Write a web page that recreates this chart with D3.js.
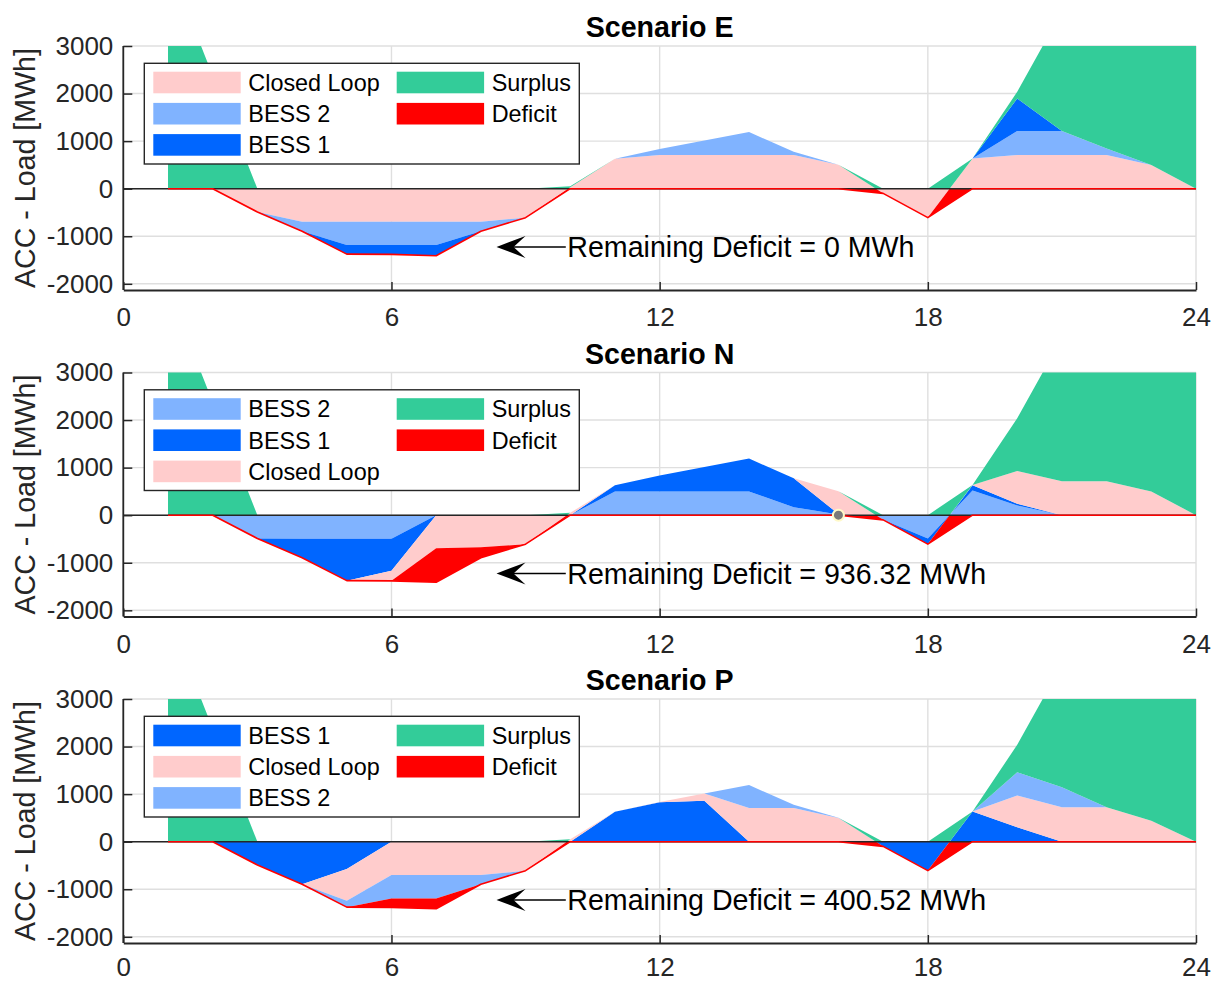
<!DOCTYPE html>
<html>
<head>
<meta charset="utf-8">
<script src="https://cdn.jsdelivr.net/npm/d3@7"></script>
<style>
  body { margin: 0; background: #fff; }
  svg { display: block; }
</style>
</head>
<body>
<svg id="chart" width="1217" height="983"></svg>
<script>
// Hourly samples (hour 1 .. 24)
const hours = d3.range(1, 25);

// ACC - Load [MWh], shared by all scenarios
const accMinusLoad = [4760, 2380, -490, -896, -1376, -1380, -1410, -896, -609, 50, 630, 835,
                      1015, 1190, 775, 505, -98, -608, 637, 2037, 3727, 4300, 4600, 4800];

// Scenario E (stack order: Closed Loop, BESS 2, BESS 1)
const eClosedLoop = [0, 0, -490, -693, -693, -693, -693, -693, -609, 30, 630, 707,
                     707, 707, 707, 505, -98, -608, 637, 707, 707, 707, 497, 0];
const eBess2      = [0, 0, 0, -203, -490, -490, -490, -203, 0, 0, 0, 128,
                     308, 483, 68, 0, 0, 0, 0, 504, 504, 140, 0, 0];
const eBess1      = [0, 0, 0, 0, -193, -197, -227, 0, 0, 0, 0, 0,
                     0, 0, 0, 0, 0, 0, 0, 686, 0, 0, 0, 0];

// Scenario N (stack order: BESS 2, BESS 1, Closed Loop)
const nBess2      = [0, 0, -490, -493, -493, -493, 0, 0, 0, 0, 500, 500,
                     500, 500, 169, 15, -98, -490, 521, 204, 0, 0, 0, 0];
const nBess1      = [0, 0, 0, -403, -883, -676, 0, 0, 0, 0, 130, 335,
                     515, 690, 606, 10, 0, -118, 106, 36, 0, 0, 0, 0];
const nClosedLoop = [0, 0, 0, 0, 0, -211, -695, -674.68, -609, 50, 0, 0,
                     0, 0, 0, 480, 0, 0, 10, 690, 711, 711, 500, 0];

// Scenario P (stack order: BESS 1, Closed Loop, BESS 2)
const pBess1      = [0, 0, -490, -896, -576, 0, 0, 0, 0, 0, 630, 828,
                     863, 0, 0, 0, -98, -608, 637, 302, 0, 0, 0, 0];
const pClosedLoop = [0, 0, 0, 0, -667, -702, -702, -702, -609, 50, 0, 7,
                     152, 709, 709, 497, 0, 0, 0, 667, 723, 723, 442, 0];
const pBess2      = [0, 0, 0, 0, -133, -493, -492.48, -194, 0, 0, 0, 0,
                     0, 481, 66, 8, 0, 0, 0, 491, 421, 0, 0, 0];

// Axis ticks
const xTicks = [0, 6, 12, 18, 24];
const yTicks = [-2000, -1000, 0, 1000, 2000, 3000];

const scenarios = [
  { title: "Scenario E", series: [["Closed Loop", eClosedLoop], ["BESS 2", eBess2], ["BESS 1", eBess1]], tip: null },
  { title: "Scenario N", series: [["BESS 2", nBess2], ["BESS 1", nBess1], ["Closed Loop", nClosedLoop]], tip: [16, 0] },
  { title: "Scenario P", series: [["BESS 1", pBess1], ["Closed Loop", pClosedLoop], ["BESS 2", pBess2]], tip: null }
];

const colors = {
  "Closed Loop": "#FFCCCC",
  "BESS 2": "#80B3FF",
  "BESS 1": "#0066FF",
  "Surplus": "#33CC99",
  "Deficit": "#FF0000"
};

const FONT = "'Liberation Sans', Arial, Helvetica, sans-serif";
const axisColor = "#262626";
const plotLeft = 123.3, plotRight = 1196;
const panelTops = [46, 372.5, 699];
const plotH = 244;
const yDomain = [-2130, 3000];

const svg = d3.select("#chart");
const defs = svg.append("defs");

const x = d3.scaleLinear().domain([0, 24]).range([plotLeft, plotRight]);

scenarios.forEach((sc, si) => {
  const top = panelTops[si];
  const bottom = top + plotH;
  const y = d3.scaleLinear().domain(yDomain).range([bottom, top]);
  const g = svg.append("g");

  // clip regions: whole plot, above zero, below zero
  defs.append("clipPath").attr("id", `plot${si}`).append("rect")
    .attr("x", plotLeft).attr("y", top).attr("width", plotRight - plotLeft).attr("height", plotH);
  defs.append("clipPath").attr("id", `above${si}`).append("rect")
    .attr("x", plotLeft).attr("y", top).attr("width", plotRight - plotLeft).attr("height", y(0) - top);
  defs.append("clipPath").attr("id", `below${si}`).append("rect")
    .attr("x", plotLeft).attr("y", y(0)).attr("width", plotRight - plotLeft).attr("height", bottom - y(0));

  // grid
  const grid = g.append("g").attr("stroke", "#DFDFDF").attr("stroke-width", 1.4);
  grid.selectAll("line.gy").data(yTicks).join("line")
    .attr("x1", plotLeft).attr("x2", plotRight).attr("y1", d => y(d)).attr("y2", d => y(d));
  grid.selectAll("line.gx").data(xTicks).join("line")
    .attr("x1", d => x(d)).attr("x2", d => x(d)).attr("y1", top).attr("y2", bottom);

  const band = d3.area()
    .x(d => x(d.h))
    .y0(d => y(d.lo))
    .y1(d => y(d.hi));

  // stacked resource bands
  let cum = hours.map(() => 0);
  const fills = g.append("g").attr("clip-path", `url(#plot${si})`);
  sc.series.forEach(([name, vals]) => {
    const lo = cum.slice();
    const hi = cum.map((c, i) => c + vals[i]);
    fills.append("path")
      .datum(hours.map((h, i) => ({ h, lo: lo[i], hi: hi[i] })))
      .attr("d", band)
      .attr("fill", colors[name]);
    cum = hi;
  });
  const covered = cum;

  const posNet = accMinusLoad.map(v => Math.max(v, 0));
  const negNet = accMinusLoad.map(v => Math.min(v, 0));

  // surplus: between resources and positive net
  g.append("path")
    .datum(hours.map((h, i) => ({ h, lo: covered[i], hi: posNet[i] })))
    .attr("clip-path", `url(#above${si})`)
    .attr("d", band)
    .attr("fill", colors["Surplus"]);

  // remaining deficit: between negative net and resources
  g.append("path")
    .datum(hours.map((h, i) => ({ h, lo: negNet[i], hi: covered[i] })))
    .attr("clip-path", `url(#below${si})`)
    .attr("d", band)
    .attr("fill", colors["Deficit"]);

  // area baseline
  g.append("line")
    .attr("x1", plotLeft).attr("x2", plotRight).attr("y1", y(0)).attr("y2", y(0))
    .attr("stroke", axisColor).attr("stroke-width", 1.4);

  // deficit outline
  g.append("path")
    .datum(hours.map((h, i) => [h, negNet[i]]))
    .attr("d", d3.line().x(d => x(d[0])).y(d => y(d[1])))
    .attr("fill", "none")
    .attr("stroke", colors["Deficit"])
    .attr("stroke-width", 1.6)
    .attr("stroke-linejoin", "round");

  // data tip marker
  if (sc.tip) {
    g.append("circle")
      .attr("cx", x(sc.tip[0])).attr("cy", y(sc.tip[1])).attr("r", 5.5)
      .attr("fill", "#7A7A7A").attr("stroke", "#FFF9C8").attr("stroke-width", 2);
  }

  // axes
  const plain = d => String(d);
  const yAxis = g.append("g").attr("transform", `translate(${plotLeft},0)`)
    .call(d3.axisLeft(y).tickValues(yTicks).tickFormat(plain)
      .tickSize(-9).tickSizeOuter(0).tickPadding(10));
  const xAxis = g.append("g").attr("transform", `translate(0,${bottom})`)
    .call(d3.axisBottom(x).tickValues(xTicks).tickFormat(plain)
      .tickSize(-8).tickSizeOuter(0).tickPadding(si === 2 ? 15 : 18));
  [yAxis, xAxis].forEach(ax => {
    ax.select(".domain").attr("stroke", axisColor).attr("stroke-width", 1.8);
    ax.selectAll(".tick line").attr("stroke", axisColor).attr("stroke-width", 1.5);
    ax.selectAll(".tick text").attr("fill", axisColor)
      .style("font-family", FONT).style("font-size", "26px");
  });
  // y axis line spans the full plot height
  yAxis.select(".domain").attr("d", `M0,${bottom}V${top}`);

  // y label
  g.append("text")
    .attr("transform", `translate(35,${(top + bottom) / 2}) rotate(-90)`)
    .attr("text-anchor", "middle")
    .attr("fill", axisColor)
    .style("font-family", FONT).style("font-size", "28.6px")
    .text("ACC - Load [MWh]");

  // title
  g.append("text")
    .attr("x", (plotLeft + plotRight) / 2).attr("y", top - 9)
    .attr("text-anchor", "middle")
    .attr("fill", "#000")
    .style("font-family", FONT).style("font-size", "28.6px").style("font-weight", "bold")
    .text(sc.title);

  // remaining deficit annotation
  const deficit = hours.map((h, i) => accMinusLoad[i] < 0 ? Math.min(0, accMinusLoad[i] - covered[i]) : 0);
  const total = d3.sum(d3.pairs(deficit), ([a, b]) => -(a + b) / 2);
  const ay = y(-1225);
  const tipX = x(8.35), tailX = x(9.9);
  g.append("line")
    .attr("x1", tipX + 16).attr("x2", tailX).attr("y1", ay).attr("y2", ay)
    .attr("stroke", "#000").attr("stroke-width", 1.4);
  g.append("path")
    .attr("d", `M${tipX},${ay}L${tipX + 29},${ay - 11}L${tipX + 17},${ay}L${tipX + 29},${ay + 11}Z`)
    .attr("fill", "#000");
  g.append("text")
    .attr("x", tailX + 1.5).attr("y", ay).attr("dy", "0.36em")
    .attr("fill", "#000")
    .style("font-family", FONT).style("font-size", "28.6px")
    .text(`Remaining Deficit = ${+total.toFixed(2)} MWh`);

  // legend (two columns, column-major)
  const entries = sc.series.map(s => s[0]).concat(["Surplus", "Deficit"]);
  const lg = g.append("g").attr("transform", `translate(144.3,${top + 17.3})`);
  lg.append("rect").attr("width", 435).attr("height", 100.7)
    .attr("fill", "#fff").attr("stroke", axisColor).attr("stroke-width", 1.4);
  entries.forEach((name, k) => {
    const col = Math.floor(k / 3), row = k % 3;
    const ex = 9 + col * 243.4;
    const cy = 19.2 + row * 31.2;
    lg.append("rect").attr("x", ex).attr("y", cy - 10.8).attr("width", 87.4).attr("height", 21.6)
      .attr("fill", colors[name]);
    lg.append("text").attr("x", ex + 95).attr("y", cy).attr("dy", "0.36em")
      .attr("fill", "#000")
      .style("font-family", FONT).style("font-size", "23.4px")
      .text(name);
  });
});
</script>
</body>
</html>
